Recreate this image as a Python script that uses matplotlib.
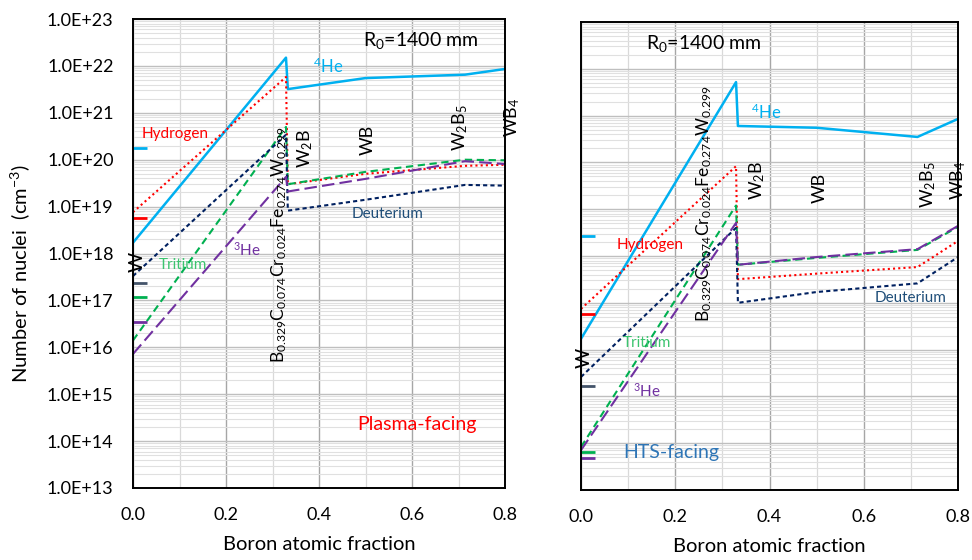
import math
import matplotlib
matplotlib.use("Agg")
import matplotlib.pyplot as plt
from matplotlib.ticker import MultipleLocator, LogLocator, NullFormatter

plt.rcParams["font.family"] = ["Lato", "DejaVu Sans"]
plt.rcParams["mathtext.default"] = "regular"

# boron atomic fraction: W, B0.329C..W0.299, W2B, WB, W2B5, WB4
boron = [0.0, 0.329, 0.333, 0.5, 0.714, 0.8]

# plasma-facing (cm^-3)
he4_pf = [1.7e18, 1.5e22, 3.2e21, 5.5e21, 6.5e21, 8.6e21]
h_pf = [7.6e18, 5.8e21, 3.0e19, 5.0e19, 7.4e19, 7.8e19]
t_pf = [1.4e16, 5.0e20, 3.0e19, 5.5e19, 1.0e20, 9.7e19]
d_pf = [3.3e17, 3.4e20, 8.2e18, 1.4e19, 2.9e19, 2.8e19]
he3_pf = [7.2e15, 4.3e19, 2.1e19, 3.9e19, 9.3e19, 8.1e19]

# HTS-facing (cm^-3)
he4_hts = [1.7e16, 5.2e21, 6.0e20, 5.5e20, 3.5e20, 8.5e20]
h_hts = [7.4e16, 8.3e19, 3.2e17, 4.2e17, 5.8e17, 2.1e18]
t_hts = [8.3e13, 1.2e19, 6.5e17, 9.1e17, 1.35e18, 4.2e18]
d_hts = [2.6e15, 4.0e18, 1.0e17, 1.7e17, 2.6e17, 9.5e17]
he3_hts = [7.1e13, 5.1e18, 6.5e17, 9.5e17, 1.4e18, 4.4e18]

# short reference marks at x = 0 (he4, h, d, t, he3)
marks_pf = [1.8e20, 5.7e18, 2.4e17, 1.2e17, 3.5e16]
marks_hts = [2.7e18, 5.8e16, 1.7e15, 6.5e13, 4.8e13]
mark_width = 0.03

c_he4 = "#00B0F0"
c_h = "#FF0000"
c_d = "#002060"
c_t = "#00B050"
c_he3 = "#7030A0"
mark_colors = [c_he4, c_h, "#44546A", c_t, c_he3]

compound = r"B$_{0.329}$C$_{0.074}$Cr$_{0.024}$Fe$_{0.274}$W$_{0.299}$"

fig = plt.figure(figsize=(9.72, 5.6), dpi=100)
ax1 = fig.add_axes([133 / 972, 72 / 560, 372 / 972, 469 / 560])
ax2 = fig.add_axes([581 / 972, 70 / 560, 377 / 972, 468 / 560])


def draw(ax, he4, h, t, d, he3, marks):
    ax.set_yscale("log")
    ax.set_ylim(1e13, 1e23)
    ax.set_xlim(0, 0.8)
    ax.xaxis.set_major_locator(MultipleLocator(0.2))
    ax.xaxis.set_minor_locator(MultipleLocator(0.1))
    ax.yaxis.set_major_locator(LogLocator(base=10, numticks=20))
    ax.yaxis.set_minor_locator(LogLocator(base=10, subs=range(2, 10), numticks=20))
    ax.yaxis.set_minor_formatter(NullFormatter())
    ax.grid(which="major", axis="x", color="#a6a6a6", lw=1.0)
    ax.grid(which="minor", axis="x", color="#d9d9d9", lw=0.9)
    ax.grid(which="major", axis="y", color="#bfbfbf", lw=1.0)
    ax.grid(which="minor", axis="y", color="#e0e0e0", lw=0.8)
    ax.set_axisbelow(True)
    ax.tick_params(which="both", length=0)
    ax.tick_params(axis="x", labelsize=13, pad=14)
    ax.tick_params(axis="y", labelsize=13, pad=14)
    for s in ax.spines.values():
        s.set_color("black")
        s.set_linewidth(1.4)

    ax.plot(boron, he4, color=c_he4, lw=1.8)
    ax.plot(boron, h, color=c_h, lw=1.5, dashes=(1, 1.5))
    ax.plot(boron, t, color=c_t, lw=1.5, dashes=(3.5, 2.2))
    ax.plot(boron, d, color=c_d, lw=1.5, dashes=(2, 1.5))
    ax.plot(boron, he3, color=c_he3, lw=1.5, dashes=(6, 2.5))
    for m, c in zip(marks, mark_colors):
        ax.plot([0, mark_width], [m, m], color=c, lw=2, solid_capstyle="butt")


draw(ax1, he4_pf, h_pf, t_pf, d_pf, he3_pf, marks_pf)
draw(ax2, he4_hts, h_hts, t_hts, d_hts, he3_hts, marks_hts)

ax1.yaxis.set_major_formatter(plt.FuncFormatter(lambda v, p: "1.0E+%d" % round(math.log10(v))))
ax2.yaxis.set_major_formatter(NullFormatter())

fig.text(0.021, 0.512, "Number of nuclei  (cm$^{-3}$)", rotation=90, ha="center", va="center", fontsize=14.5)
fig.text(0.329, 0.027, "Boron atomic fraction", ha="center", va="center", fontsize=14.5)
fig.text(0.791, 0.024, "Boron atomic fraction", ha="center", va="center", fontsize=14.5)

# left panel annotations
T = ax1.transAxes
ax1.text(0.772, 0.955, "R$_0$=1400 mm", transform=T, ha="center", va="center", fontsize=14)
ax1.text(0.524, 0.900, "$^4$He", transform=T, ha="center", va="center", fontsize=12, color=c_he4)
ax1.text(0.113, 0.755, "Hydrogen", transform=T, ha="center", va="center", fontsize=11, color=c_h)
ax1.text(0.683, 0.584, "Deuterium", transform=T, ha="center", va="center", fontsize=11, color="#1F4E79")
ax1.text(0.134, 0.475, "Tritium", transform=T, ha="center", va="center", fontsize=11, color="#3CC46F")
ax1.text(0.306, 0.507, "$^3$He", transform=T, ha="center", va="center", fontsize=11, color=c_he3)
ax1.text(0.763, 0.136, "Plasma-facing", transform=T, ha="center", va="center", fontsize=14, color=c_h)
ax1.text(0.011, 0.482, "W", transform=T, ha="center", va="center", fontsize=14, rotation=90, clip_on=False)
ax1.text(0.392, 0.267, compound, transform=T, ha="center", va="bottom", fontsize=12.5, rotation=90)
ax1.text(0.462, 0.725, "W$_2$B", transform=T, ha="center", va="center", fontsize=13, rotation=90)
ax1.text(0.632, 0.742, "WB", transform=T, ha="center", va="center", fontsize=13, rotation=90)
ax1.text(0.879, 0.768, "W$_2$B$_5$", transform=T, ha="center", va="center", fontsize=13, rotation=90)
ax1.text(1.019, 0.791, "WB$_4$", transform=T, ha="center", va="center", fontsize=13, rotation=90, clip_on=False)

# right panel annotations
T = ax2.transAxes
ax2.text(0.326, 0.955, "R$_0$=1400 mm", transform=T, ha="center", va="center", fontsize=14)
ax2.text(0.491, 0.806, "$^4$He", transform=T, ha="center", va="center", fontsize=12, color=c_he4)
ax2.text(0.183, 0.524, "Hydrogen", transform=T, ha="center", va="center", fontsize=11, color=c_h)
ax2.text(0.875, 0.410, "Deuterium", transform=T, ha="center", va="center", fontsize=11, color="#1F4E79")
ax2.text(0.175, 0.314, "Tritium", transform=T, ha="center", va="center", fontsize=11, color="#3CC46F")
ax2.text(0.175, 0.212, "$^3$He", transform=T, ha="center", va="center", fontsize=11, color=c_he3)
ax2.text(0.239, 0.081, "HTS-facing", transform=T, ha="center", va="center", fontsize=14, color="#2E75B6")
ax2.text(0.008, 0.282, "W", transform=T, ha="center", va="center", fontsize=14, rotation=90, clip_on=False)
ax2.text(0.326, 0.359, compound, transform=T, ha="center", va="bottom", fontsize=12.5, rotation=90)
ax2.text(0.467, 0.662, "W$_2$B", transform=T, ha="center", va="center", fontsize=13, rotation=90)
ax2.text(0.634, 0.645, "WB", transform=T, ha="center", va="center", fontsize=13, rotation=90)
ax2.text(0.920, 0.652, "W$_2$B$_5$", transform=T, ha="center", va="center", fontsize=13, rotation=90)
ax2.text(1.000, 0.662, "WB$_4$", transform=T, ha="center", va="center", fontsize=13, rotation=90, clip_on=False)

fig.savefig("out.png", dpi=100)
